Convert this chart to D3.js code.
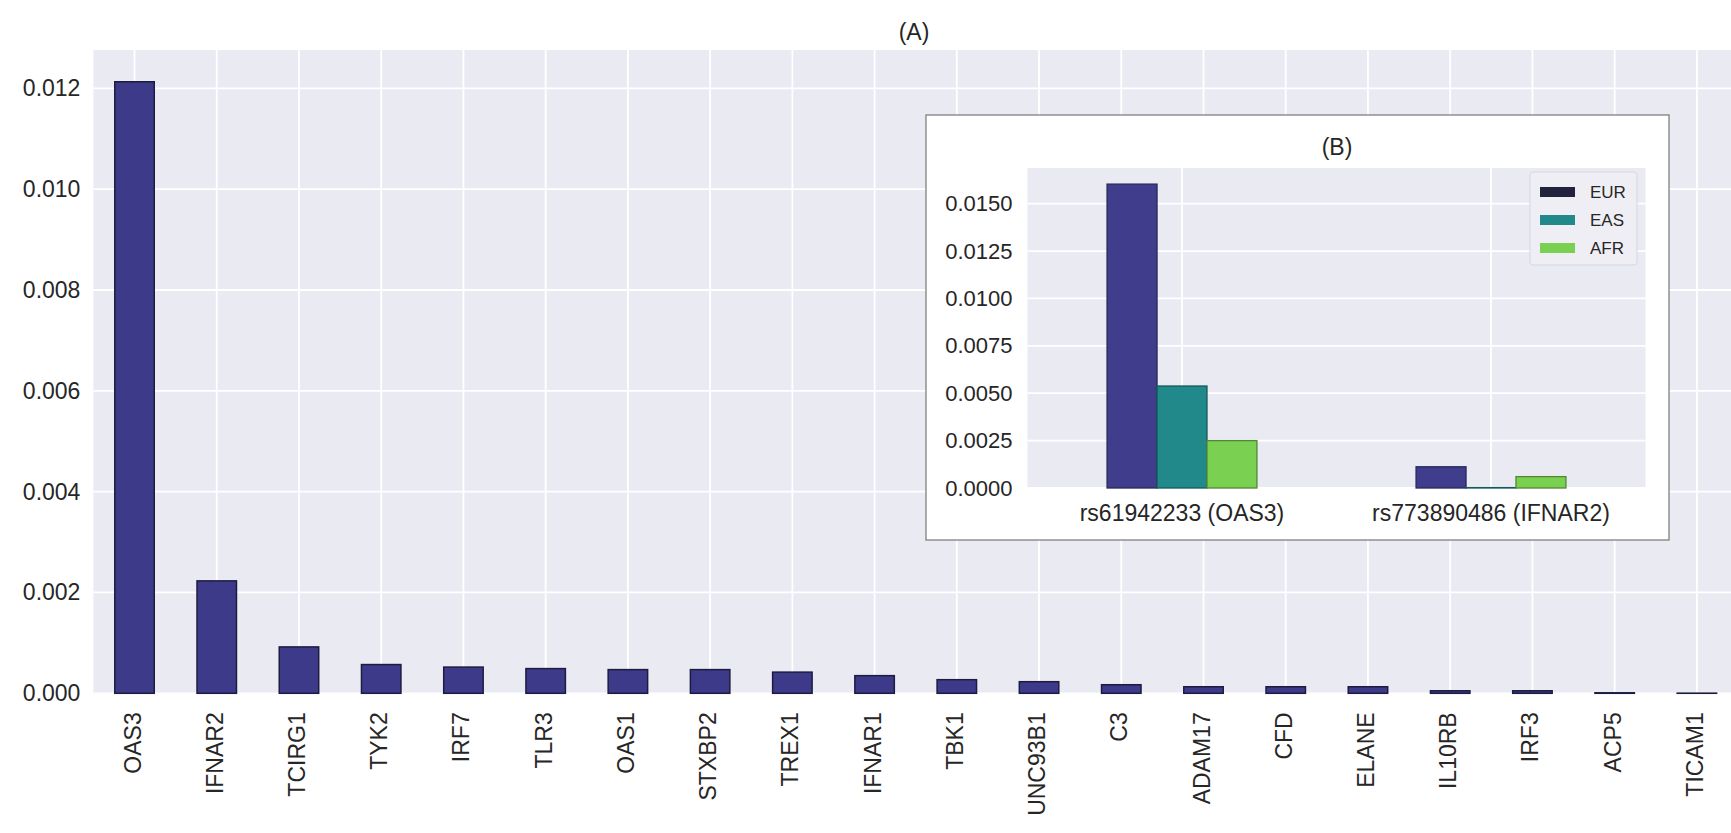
<!DOCTYPE html>
<html>
<head>
<meta charset="utf-8">
<script src="https://cdn.jsdelivr.net/npm/d3@7"></script>
<style>
  body { margin: 0; background: #fff; }
  text { font-family: "Liberation Sans", Arial, sans-serif; fill: #262626; }
</style>
</head>
<body>
<div id="chart"></div>
<script>
// main panel (A)
const genes = ["OAS3", "IFNAR2", "TCIRG1", "TYK2", "IRF7", "TLR3", "OAS1", "STXBP2", "TREX1", "IFNAR1",
  "TBK1", "UNC93B1", "C3", "ADAM17", "CFD", "ELANE", "IL10RB", "IRF3", "ACP5", "TICAM1"]
const geneFreq = [0.01213, 0.00223, 0.00092, 0.00057, 0.00052, 0.00049, 0.00047, 0.00047, 0.00042, 0.00035,
  0.00027, 0.00023, 0.00017, 0.00013, 0.00013, 0.00013, 0.00005, 0.00005, 0.00001, 0.000003]
const mainTicks = [0, 0.002, 0.004, 0.006, 0.008, 0.010, 0.012]

// inset panel (B)
const snps = ["rs61942233 (OAS3)", "rs773890486 (IFNAR2)"]
const pops = ["EUR", "EAS", "AFR"]
const eurFreq = [0.01603, 0.00112]
const easFreq = [0.00538, 0.00002]
const afrFreq = [0.00250, 0.00060]
const insetTicks = [0, 0.0025, 0.005, 0.0075, 0.010, 0.0125, 0.015]

const popColor = { EUR: "#3f3d8c", EAS: "#21898a", AFR: "#7ad151" }
const barColor = "#3d3a8a"

const width = 1731, height = 833

const svg = d3.select("#chart")
  .append("svg")
  .attr("width", width)
  .attr("height", height)

// ---------- panel A ----------
const m = { left: 93.4, right: 1738, top: 50, bottom: 693.3 }

const x = d3.scaleBand()
  .domain(genes)
  .range([m.left, m.right])
  .paddingInner(0.52)
  .paddingOuter(0.26)

const y = d3.scaleLinear()
  .domain([0, 0.01276])
  .range([m.bottom, m.top])

svg.append("rect")
  .attr("x", m.left).attr("y", m.top)
  .attr("width", m.right - m.left).attr("height", m.bottom - m.top)
  .attr("fill", "#eaeaf2")

// white grid
svg.append("g")
  .selectAll("line")
  .data(mainTicks)
  .join("line")
  .attr("x1", m.left).attr("x2", m.right)
  .attr("y1", d => y(d)).attr("y2", d => y(d))
  .attr("stroke", "#fff").attr("stroke-width", 1.8)

svg.append("g")
  .selectAll("line")
  .data(genes)
  .join("line")
  .attr("x1", d => x(d) + x.bandwidth() / 2).attr("x2", d => x(d) + x.bandwidth() / 2)
  .attr("y1", m.top).attr("y2", m.bottom)
  .attr("stroke", "#fff").attr("stroke-width", 1.8)

svg.append("g")
  .selectAll("rect")
  .data(genes)
  .join("rect")
  .attr("x", d => x(d))
  .attr("width", x.bandwidth())
  .attr("y", (d, i) => y(geneFreq[i]))
  .attr("height", (d, i) => y(0) - y(geneFreq[i]))
  .attr("fill", barColor)
  .attr("stroke", "#1d1c40")
  .attr("stroke-width", 1.5)

// y axis labels
const yAxis = svg.append("g")
  .attr("transform", `translate(${m.left},0)`)
  .call(d3.axisLeft(y).tickValues(mainTicks).tickFormat(d3.format(".3f")).tickSize(0).tickPadding(13))
yAxis.select(".domain").remove()
yAxis.selectAll("text")
  .attr("font-size", 23)
  .attr("font-family", "Liberation Sans, Arial, sans-serif")
  .attr("fill", "#262626")

// x labels, rotated
svg.append("g")
  .selectAll("text")
  .data(genes)
  .join("text")
  .attr("transform", d => `translate(${x(d) + x.bandwidth() / 2 - 2},${m.bottom + 19}) rotate(-90)`)
  .attr("text-anchor", "end")
  .attr("dy", "0.35em")
  .attr("font-size", 23)
  .text(d => d)

svg.append("text")
  .attr("x", 914).attr("y", 40)
  .attr("text-anchor", "middle")
  .attr("font-size", 23)
  .text("(A)")

// ---------- panel B (inset) ----------
const box = { left: 926, right: 1669, top: 115, bottom: 540 }
svg.append("rect")
  .attr("x", box.left).attr("y", box.top)
  .attr("width", box.right - box.left).attr("height", box.bottom - box.top)
  .attr("fill", "#fff")
  .attr("stroke", "#808080")
  .attr("stroke-width", 1.3)

const n = { left: 1027.5, right: 1645.5, top: 168, bottom: 488 }

const x0 = d3.scaleBand()
  .domain(snps)
  .range([n.left, n.right])
  .paddingInner(0.515)
  .paddingOuter(0.2575)

const x1 = d3.scaleBand()
  .domain(pops)
  .range([0, x0.bandwidth()])

const y2 = d3.scaleLinear()
  .domain([0, 0.01688])
  .range([n.bottom, n.top])

svg.append("rect")
  .attr("x", n.left).attr("y", n.top)
  .attr("width", n.right - n.left).attr("height", n.bottom - n.top)
  .attr("fill", "#eaeaf2")

svg.append("g")
  .selectAll("line")
  .data(insetTicks)
  .join("line")
  .attr("x1", n.left).attr("x2", n.right)
  .attr("y1", d => y2(d)).attr("y2", d => y2(d))
  .attr("stroke", "#fff").attr("stroke-width", 1.8)

svg.append("g")
  .selectAll("line")
  .data(snps)
  .join("line")
  .attr("x1", d => x0(d) + x0.bandwidth() / 2).attr("x2", d => x0(d) + x0.bandwidth() / 2)
  .attr("y1", n.top).attr("y2", n.bottom)
  .attr("stroke", "#fff").attr("stroke-width", 1.8)

const popValues = { EUR: eurFreq, EAS: easFreq, AFR: afrFreq }

svg.append("g")
  .selectAll("g")
  .data(snps)
  .join("g")
  .attr("transform", d => `translate(${x0(d)},0)`)
  .selectAll("rect")
  .data((d, i) => pops.map(p => ({ pop: p, value: popValues[p][i] })))
  .join("rect")
  .attr("x", d => x1(d.pop))
  .attr("width", x1.bandwidth())
  .attr("y", d => y2(d.value))
  .attr("height", d => y2(0) - y2(d.value))
  .attr("fill", d => popColor[d.pop])
  .attr("stroke", d => d3.color(popColor[d.pop]).darker(1.2))
  .attr("stroke-width", 1.3)

const yAxis2 = svg.append("g")
  .attr("transform", `translate(${n.left},0)`)
  .call(d3.axisLeft(y2).tickValues(insetTicks).tickFormat(d3.format(".4f")).tickSize(0).tickPadding(15))
yAxis2.select(".domain").remove()
yAxis2.selectAll("text")
  .attr("font-size", 22)
  .attr("font-family", "Liberation Sans, Arial, sans-serif")
  .attr("fill", "#262626")

svg.append("g")
  .selectAll("text")
  .data(snps)
  .join("text")
  .attr("x", d => x0(d) + x0.bandwidth() / 2)
  .attr("y", 513)
  .attr("dy", "0.35em")
  .attr("text-anchor", "middle")
  .attr("font-size", 23)
  .text(d => d)

svg.append("text")
  .attr("x", 1337).attr("y", 155)
  .attr("text-anchor", "middle")
  .attr("font-size", 23)
  .text("(B)")

// legend
const legend = svg.append("g")
legend.append("rect")
  .attr("x", 1530).attr("y", 172)
  .attr("width", 107).attr("height", 93)
  .attr("rx", 3)
  .attr("fill", "#eeeef4")
  .attr("stroke", "#d6d6de")

legend.selectAll("g")
  .data(pops)
  .join("g")
  .attr("transform", (d, i) => `translate(1540,${192 + i * 28})`)
  .each(function (d) {
    const g = d3.select(this)
    g.append("rect")
      .attr("x", 0).attr("y", -5)
      .attr("width", 35).attr("height", 10)
      .attr("fill", d === "EUR" ? "#23233f" : popColor[d])
    g.append("text")
      .attr("x", 50).attr("dy", "0.35em")
      .attr("font-size", 17)
      .text(d)
  })
</script>
</body>
</html>
